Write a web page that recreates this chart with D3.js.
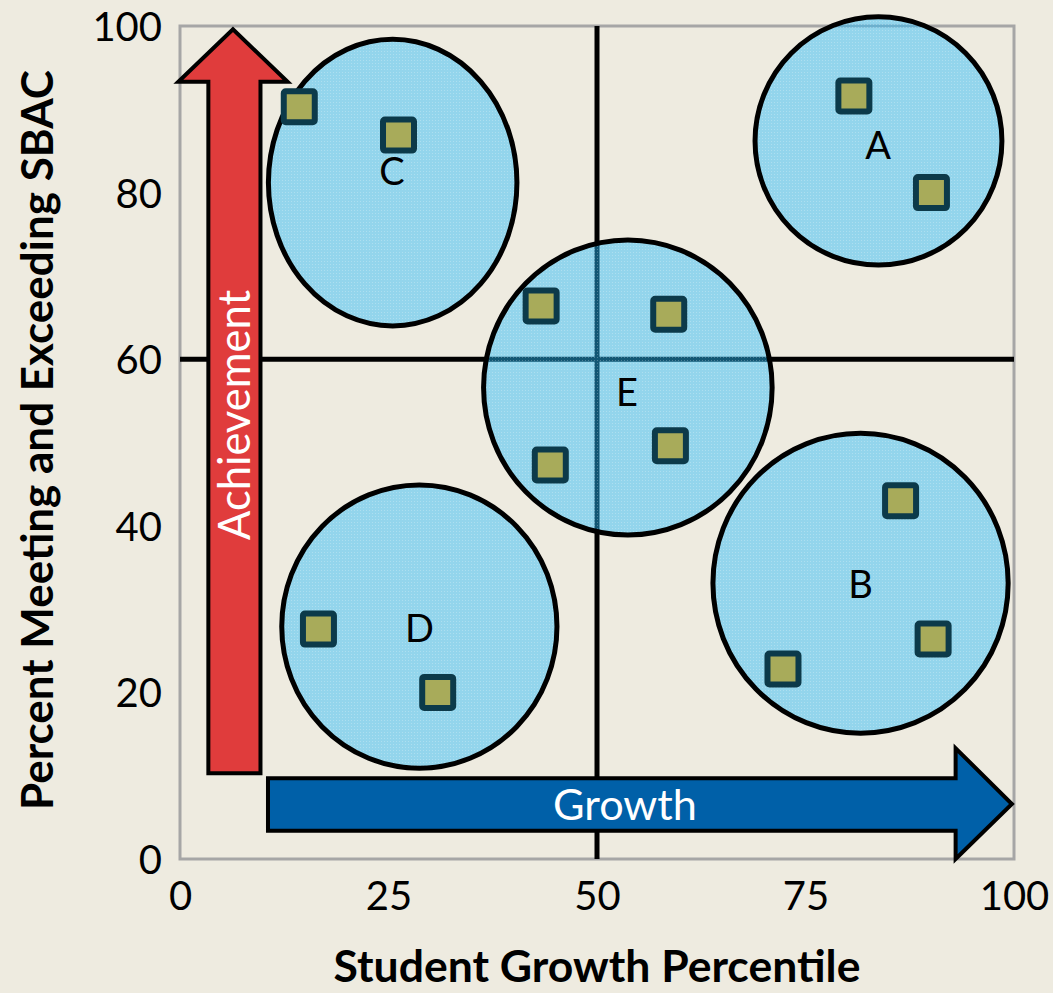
<!DOCTYPE html>
<html><head><meta charset="utf-8">
<script src="https://cdnjs.cloudflare.com/ajax/libs/d3/7.8.5/d3.min.js"></script>
<style>html,body{margin:0;padding:0;background:#eeebe0;}svg{display:block;}</style>
</head><body><div id="chart"></div>
<script>
// ---- data ----
const xTicks = [0, 25, 50, 75, 100];
const yTicks = [0, 20, 40, 60, 80, 100];
const xTitle = "Student Growth Percentile";
const yTitle = "Percent Meeting and Exceeding SBAC";
// schools (growth percentile, % meeting/exceeding)
const pointGroup = ["A","A","B","B","B","C","C","D","D","E","E","E","E"];
const pointX = [80.8, 90.1, 86.4, 90.3, 72.3, 14.3, 26.2, 16.6, 30.9, 43.3, 58.6, 44.4, 58.8];
const pointY = [91.6, 80.0, 43.0, 26.4, 22.8, 90.3, 86.9, 27.6, 20.0, 66.4, 65.4, 47.3, 49.6];
// cluster ellipses (center & radii in data units)
const clusterNames = ["A","B","C","D","E"];
const clusterCX = [83.75, 81.6, 25.5, 28.7, 53.7];
const clusterCY = [86.2, 33.1, 81.2, 27.9, 56.6];
const clusterRX = [14.8, 17.7, 14.9, 16.5, 17.3];
const clusterRY = [14.9, 18.0, 17.2, 17.0, 17.7];
const labelX = [83.7, 81.6, 25.4, 28.7, 53.6];
const labelY = [85.7, 33.0, 82.6, 27.7, 56.0];
// quadrant dividers
const dividerX = 50;
const dividerY = 60;
// annotation arrows (data units)
const achieveArrow = {label:"Achievement", x0:3.4, x1:9.65, tipX:6.35, headL:-0.2, headR:12.9, bottom:10.3, headBase:93.3, tip:99.6};
const growthArrow = {label:"Growth", x0:10.55, headBase:93.0, tip:99.75, y0:3.4, y1:9.7, headB:0.0, headT:13.3, tipY:6.6};

// ---- layout ----
const W = 1053, H = 993;
const svg = d3.select("#chart").append("svg").attr("width", W).attr("height", H);
svg.append("rect").attr("width", W).attr("height", H).attr("fill", "#eeebe0");

const x = d3.scaleLinear().domain([0, 100]).range([180, 1014]);
const y = d3.scaleLinear().domain([0, 100]).range([859, 26]);
const font = "Lato, 'Open Sans', sans-serif";

function fitText(t, target) {
  const len = t.node().getComputedTextLength();
  const fs = parseFloat(t.attr("font-size"));
  t.attr("font-size", fs * target / len);
}

// axes (labels only)
const xAxis = svg.append("g").attr("transform", `translate(0,${y(0)})`)
  .call(d3.axisBottom(x).tickValues(xTicks).tickSize(0).tickPadding(22));
xAxis.select(".domain").remove();
xAxis.selectAll("text").attr("font-family", font).attr("font-size", 40).attr("fill", "#000").attr("dy", "0.72em");
const yAxis = svg.append("g").attr("transform", `translate(${x(0)},0)`)
  .call(d3.axisLeft(y).tickValues(yTicks).tickSize(0).tickPadding(18));
yAxis.select(".domain").remove();
yAxis.selectAll("text").attr("font-family", font).attr("font-size", 40).attr("fill", "#000").attr("dy", "0.36em");

// plot frame
svg.append("rect").attr("x", x(0)).attr("y", y(100)).attr("width", x(100) - x(0)).attr("height", y(0) - y(100))
  .attr("fill", "none").attr("stroke", "#a6a6a6").attr("stroke-width", 3);

// dividers
svg.append("line").attr("x1", x(dividerX)).attr("x2", x(dividerX)).attr("y1", y(100)).attr("y2", y(0))
  .attr("stroke", "#000").attr("stroke-width", 5);
svg.append("line").attr("x1", x(0)).attr("x2", x(100)).attr("y1", y(dividerY)).attr("y2", y(dividerY))
  .attr("stroke", "#000").attr("stroke-width", 5);

// pattern for cluster fill
const defs = svg.append("defs");
const pat = defs.append("pattern").attr("id", "dots").attr("patternUnits", "userSpaceOnUse").attr("width", 3).attr("height", 3);
pat.append("rect").attr("width", 3).attr("height", 3).attr("fill", "rgb(40,188,250)").attr("fill-opacity", 0.46);
pat.append("rect").attr("x", 0).attr("y", 0).attr("width", 1).attr("height", 1).attr("fill", "#ffffff").attr("fill-opacity", 0.25);

// clusters
const clusters = clusterNames.map((n, i) => ({n, cx: clusterCX[i], cy: clusterCY[i], rx: clusterRX[i], ry: clusterRY[i], lx: labelX[i], ly: labelY[i]}));
const cg = svg.append("g");
cg.selectAll("ellipse").data(clusters).join("ellipse")
  .attr("cx", d => x(d.cx)).attr("cy", d => y(d.cy))
  .attr("rx", d => x(d.rx) - x(0)).attr("ry", d => y(0) - y(d.ry))
  .attr("fill", "url(#dots)").attr("stroke", "#000").attr("stroke-width", 5);

// squares
const pts = pointX.map((v, i) => ({x: v, y: pointY[i], g: pointGroup[i]}));
const S = 31;
svg.append("g").selectAll("rect").data(pts).join("rect")
  .attr("x", d => x(d.x) - S / 2).attr("y", d => y(d.y) - S / 2)
  .attr("width", S).attr("height", S).attr("rx", 2)
  .attr("fill", "#a8ab5a").attr("stroke", "#0c3a4a").attr("stroke-width", 6);

cg.selectAll("text").data(clusters).join("text")
  .attr("x", d => x(d.lx)).attr("y", d => y(d.ly))
  .attr("text-anchor", "middle").attr("dy", "0.36em")
  .attr("font-family", font).attr("font-size", 38).attr("fill", "#000").text(d => d.n);

// achievement arrow (up)
const a = achieveArrow;
const aPts = [[a.x0, a.bottom], [a.x0, a.headBase], [a.headL, a.headBase], [a.tipX, a.tip], [a.headR, a.headBase], [a.x1, a.headBase], [a.x1, a.bottom]];
svg.append("path").attr("d", d3.line().x(d => x(d[0])).y(d => y(d[1]))(aPts) + "Z")
  .attr("fill", "#e03c3c").attr("stroke", "#000").attr("stroke-width", 4).attr("stroke-linejoin", "miter");
const at = svg.append("text").attr("transform", `translate(${x((a.x0 + a.x1) / 2)},415) rotate(-90)`)
  .attr("text-anchor", "middle").attr("dy", "0.36em").attr("font-family", font).attr("font-size", 38)
  .attr("fill", "#fff").text(a.label);
fitText(at, 250);

// growth arrow (right)
const g = growthArrow;
const gPts = [[g.x0, g.y0], [g.x0, g.y1], [g.headBase, g.y1], [g.headBase, g.headT], [g.tip, g.tipY], [g.headBase, g.headB], [g.headBase, g.y0]];
svg.append("path").attr("d", d3.line().x(d => x(d[0])).y(d => y(d[1]))(gPts) + "Z")
  .attr("fill", "#0060a8").attr("stroke", "#000").attr("stroke-width", 4).attr("stroke-linejoin", "miter");
const gt = svg.append("text").attr("x", 625).attr("y", y((g.y0 + g.y1) / 2))
  .attr("text-anchor", "middle").attr("dy", "0.36em").attr("font-family", font).attr("font-size", 38)
  .attr("fill", "#fff").text(g.label);
fitText(gt, 144);

// axis titles
const xt = svg.append("text").attr("x", 597).attr("y", 982).attr("text-anchor", "middle")
  .attr("font-family", font).attr("font-weight", "bold").attr("font-size", 34).attr("fill", "#000").text(xTitle);
fitText(xt, 527);
const yt = svg.append("text").attr("transform", "translate(37,440) rotate(-90)").attr("text-anchor", "middle").attr("dy", "0.36em")
  .attr("font-family", font).attr("font-weight", "bold").attr("font-size", 34).attr("fill", "#000").text(yTitle);
fitText(yt, 740);
</script></body></html>
